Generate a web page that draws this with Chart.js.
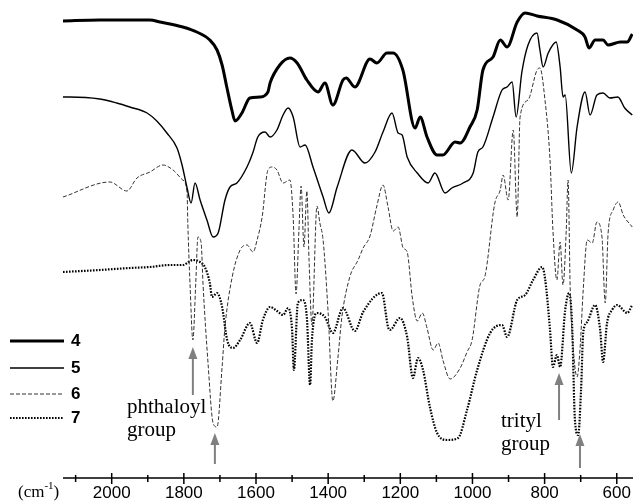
<!DOCTYPE html>
<html lang="en">
<head>
  <meta charset="UTF-8" />
  <title>IR spectra 4-7</title>
  <script src="https://cdn.jsdelivr.net/npm/chart.js"></script>
  <style>
    body { margin: 0; background: #ffffff; }
    #wrap { width: 633px; height: 504px; position: relative; }
  </style>
</head>
<body>
<div id="wrap"><canvas id="ir"></canvas></div>
<script>
// wavenumbers (cm-1) and trace offsets (read downward from the top of the plot)
const wn4 = [2135,2033,1894,1866,1803,1764,1728,1708,1694,1681,1667,1658,1639,1617,1589,1567,1561,1534,1506,1486,1459,1428,1409,1387,1359,1350,1326,1284,1265,1237,1220,1193,1159,1145,1126,1098,1082,1048,1034,1007,987,971,943,923,904,876,854,821,765,710,688,677,660,638,624,590,571,557];
const t4  = [21,20,20,22,27,32,40,50,65,87,110,121,113,98,97,92,83,65,58,63,80,92,83,105,80,78,87,59,63,53,53,70,128,117,137,155,155,142,143,127,110,70,57,40,47,22,13,16,20,30,37,48,40,40,45,42,42,34];

const wn5 = [2135,2116,2033,1986,1950,1902,1875,1847,1819,1805,1791,1780,1769,1755,1736,1719,1705,1686,1672,1653,1625,1609,1595,1575,1561,1542,1525,1511,1497,1478,1464,1442,1414,1398,1375,1334,1298,1270,1248,1223,1206,1195,1181,1153,1123,1104,1076,1057,1026,998,985,971,943,918,904,890,879,863,846,821,813,804,790,768,757,749,743,726,710,688,674,655,638,619,597,578,557];
const t5  = [97,97,99,103,107,113,121,133,148,165,188,203,183,200,220,237,233,200,187,183,167,153,137,132,137,130,115,108,117,147,145,167,197,213,187,150,163,152,132,113,133,135,157,173,183,173,193,188,183,173,152,147,117,90,87,82,117,72,45,33,50,67,53,42,67,97,95,173,127,92,115,95,93,98,97,108,115];

const wn6 = [2135,2005,1958,1930,1894,1858,1830,1803,1791,1789,1783,1775,1767,1761,1752,1747,1733,1719,1708,1694,1686,1666,1644,1625,1608,1597,1583,1567,1555,1542,1525,1506,1497,1489,1481,1475,1467,1459,1453,1445,1431,1423,1414,1400,1387,1373,1362,1340,1317,1303,1284,1265,1248,1234,1220,1206,1192,1181,1167,1153,1139,1126,1109,1095,1082,1062,1034,1015,1001,979,966,938,923,915,901,887,876,868,846,821,813,799,785,777,766,757,749,740,735,729,721,710,702,693,682,668,655,641,632,624,610,596,582,557];
const t6  = [197,182,191,178,172,165,170,180,193,223,283,340,283,237,243,283,363,423,427,367,327,277,250,245,252,240,217,170,167,170,183,180,217,294,230,186,247,191,260,325,206,223,240,313,401,358,317,277,260,248,236,206,185,207,231,227,248,252,297,321,313,328,350,343,360,379,368,352,340,285,277,203,190,175,200,130,217,117,100,70,68,100,160,230,280,242,285,230,180,290,347,377,350,290,240,243,222,237,303,233,210,202,215,227];

const wn7 = [2135,2033,1950,1894,1839,1803,1775,1755,1742,1728,1722,1708,1694,1680,1664,1644,1617,1597,1581,1561,1542,1525,1511,1500,1495,1484,1470,1459,1450,1445,1431,1409,1387,1359,1326,1303,1251,1234,1229,1201,1181,1165,1151,1137,1118,1098,1070,1040,1015,987,951,918,904,876,854,832,807,799,785,777,766,757,743,732,724,716,707,699,693,682,660,646,638,627,613,599,571,557];
const t7  = [272,270,268,267,265,265,260,262,267,283,297,293,307,340,348,340,323,343,320,307,311,315,308,330,370,303,300,318,385,340,313,317,333,308,331,312,293,327,330,318,337,378,358,370,407,433,440,438,410,370,333,325,337,300,295,280,267,278,330,367,355,367,310,293,323,420,435,390,333,322,305,330,362,323,310,305,313,305];

const seriesNames = ['4', '5', '6', '7'];
const majorTicks = [2000, 1800, 1600, 1400, 1200, 1000, 800, 600];
const minorTicks = [2100, 1900, 1700, 1500, 1300, 1100, 900, 700];

// annotation arrows: wavenumber, head tip, tail end
const arrowWn = [1775, 1714, 760, 702];
const arrowTip = [347, 433, 373, 434];
const arrowEnd = [395, 464, 420, 468];

function pts(xs, ys) {
  return xs.map((x, i) => ({ x: x, y: ys[i] }));
}

const drawExtras = {
  id: 'drawExtras',
  afterDraw(chart) {
    const ctx = chart.ctx;
    const xs = chart.scales.x;
    const area = chart.chartArea;
    const axisY = area.bottom;
    ctx.save();

    // x axis with crossing ticks
    ctx.strokeStyle = '#000';
    ctx.lineWidth = 1.5;
    ctx.beginPath();
    ctx.moveTo(area.left, axisY);
    ctx.lineTo(633, axisY);
    ctx.stroke();
    ctx.lineWidth = 1.5;
    majorTicks.forEach(v => {
      const px = xs.getPixelForValue(v);
      ctx.beginPath();
      ctx.moveTo(px, axisY - 5);
      ctx.lineTo(px, axisY + 6);
      ctx.stroke();
    });
    minorTicks.forEach(v => {
      const px = xs.getPixelForValue(v);
      ctx.beginPath();
      ctx.moveTo(px, axisY - 3);
      ctx.lineTo(px, axisY + 4);
      ctx.stroke();
    });
    ctx.fillStyle = '#000';
    ctx.font = '17px "Liberation Sans", Arial, sans-serif';
    ctx.textAlign = 'center';
    ctx.textBaseline = 'middle';
    majorTicks.forEach(v => {
      ctx.fillText(String(v), xs.getPixelForValue(v), 493);
    });

    // unit label
    ctx.textAlign = 'left';
    ctx.textBaseline = 'alphabetic';
    ctx.font = '17px "Liberation Serif", "Times New Roman", serif';
    ctx.fillText('(cm', 18, 497);
    let w = ctx.measureText('(cm').width;
    ctx.font = '11px "Liberation Serif", "Times New Roman", serif';
    ctx.fillText('-1', 18 + w, 489);
    let w2 = ctx.measureText('-1').width;
    ctx.font = '17px "Liberation Serif", "Times New Roman", serif';
    ctx.fillText(')', 18 + w + w2, 497);

    // legend
    const legendY = [341, 368, 394, 418];
    chart.data.datasets.forEach((ds, i) => {
      ctx.strokeStyle = ds.borderColor;
      ctx.lineWidth = ds.borderWidth;
      ctx.setLineDash(ds.borderDash || []);
      ctx.beginPath();
      ctx.moveTo(10, legendY[i]);
      ctx.lineTo(64, legendY[i]);
      ctx.stroke();
      ctx.setLineDash([]);
      ctx.fillStyle = '#000';
      ctx.font = 'bold 17px "Liberation Sans", Arial, sans-serif';
      ctx.textBaseline = 'middle';
      ctx.fillText(seriesNames[i], 71, legendY[i]);
    });

    // arrows
    ctx.strokeStyle = '#808080';
    ctx.fillStyle = '#808080';
    ctx.lineWidth = 2;
    arrowWn.forEach((v, i) => {
      const px = xs.getPixelForValue(v);
      ctx.beginPath();
      ctx.moveTo(px, arrowEnd[i]);
      ctx.lineTo(px, arrowTip[i] + 10);
      ctx.stroke();
      ctx.beginPath();
      ctx.moveTo(px, arrowTip[i]);
      ctx.lineTo(px - 4.5, arrowTip[i] + 12);
      ctx.lineTo(px + 4.5, arrowTip[i] + 12);
      ctx.closePath();
      ctx.fill();
    });

    // annotation text
    ctx.fillStyle = '#000';
    ctx.font = '21px "Liberation Serif", "Times New Roman", serif';
    ctx.textBaseline = 'alphabetic';
    ctx.fillText('phthaloyl', 127, 413);
    ctx.fillText('group', 127, 436);
    ctx.fillText('trityl', 501, 427);
    ctx.fillText('group', 501, 450);

    ctx.restore();
  }
};

new Chart(document.getElementById('ir'), {
  type: 'line',
  data: {
    datasets: [
      { label: '4', data: pts(wn4, t4), borderColor: '#000', borderWidth: 3 },
      { label: '5', data: pts(wn5, t5), borderColor: '#000', borderWidth: 1.4 },
      { label: '6', data: pts(wn6, t6), borderColor: '#333', borderWidth: 1, borderDash: [4, 2] },
      { label: '7', data: pts(wn7, t7), borderColor: '#000', borderWidth: 2.2, borderDash: [1.6, 1.4] }
    ]
  },
  options: {
    responsive: true,
    maintainAspectRatio: false,
    animation: false,
    layout: { padding: { left: 63, right: 0, top: 0, bottom: 26 } },
    elements: {
      point: { radius: 0 },
      line: { cubicInterpolationMode: 'monotone', fill: false }
    },
    scales: {
      x: { type: 'linear', reverse: true, min: 555, max: 2135, display: false },
      y: { type: 'linear', reverse: true, min: 0, max: 478, display: false }
    },
    plugins: { legend: { display: false }, tooltip: { enabled: false } }
  },
  plugins: [drawExtras]
});
</script>
</body>
</html>
